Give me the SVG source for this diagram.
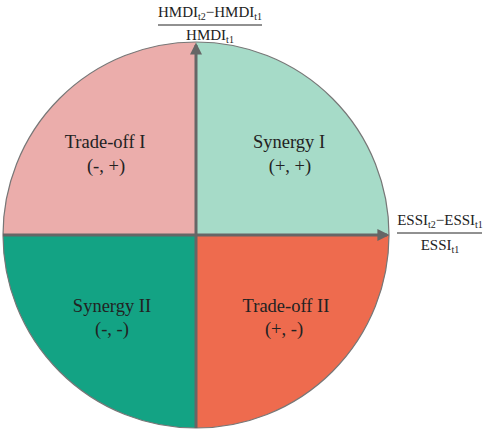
<svg xmlns="http://www.w3.org/2000/svg" width="484" height="429" viewBox="0 0 484 429">
<style>
.lbl{font-family:"Liberation Serif","Times New Roman",serif;font-size:18.5px;fill:#222;text-anchor:middle}
.ax{font-family:"Liberation Serif","Times New Roman",serif;font-size:15px;fill:#222;text-anchor:middle}
.sub{font-size:10px}
.axis{stroke:#666;stroke-width:3;fill:none}
</style>
<defs>
<marker id="ah" viewBox="0 0 10 10" refX="8" refY="5" markerWidth="4" markerHeight="4" orient="auto"><path d="M0,0L10,5L0,10z" fill="#666"/></marker>
<clipPath id="c"><circle cx="196" cy="235" r="193"/></clipPath>
</defs>
<g id="quadrants" clip-path="url(#c)">
<g id="tradeoff1"><rect x="0" y="40" width="196" height="195" fill="#ebadab"/></g>
<g id="synergy1"><rect x="196" y="40" width="196" height="195" fill="#a6dbc8"/></g>
<g id="synergy2"><rect x="0" y="235" width="196" height="195" fill="#13a384"/></g>
<g id="tradeoff2"><rect x="196" y="235" width="196" height="195" fill="#ee6b4e"/></g>
</g>
<circle cx="196" cy="235" r="193" fill="none" stroke="#777" stroke-width="1.2"/>
<g id="connectors">
<line class="axis" x1="3" y1="235" x2="387" y2="235" marker-end="url(#ah)"/>
<line class="axis" x1="196" y1="428" x2="196" y2="45" marker-end="url(#ah)"/>
</g>
<g id="labels">
<text class="lbl" x="105" y="148">Trade-off I</text>
<text class="lbl" x="106" y="172">(-, +)</text>
<text class="lbl" x="289" y="148">Synergy I</text>
<text class="lbl" x="290" y="172">(+, +)</text>
<text class="lbl" x="112" y="312">Synergy II</text>
<text class="lbl" x="112" y="335">(-, -)</text>
<text class="lbl" x="286" y="312">Trade-off II</text>
<text class="lbl" x="284" y="335">(+, -)</text>
</g>
<g id="yaxis-label">
<text class="ax" x="210" y="17">HMDI<tspan class="sub" dy="3">t2</tspan><tspan dy="-3">−HMDI</tspan><tspan class="sub" dy="3">t1</tspan></text>
<line x1="158" y1="25" x2="262" y2="25" stroke="#222" stroke-width="1"/>
<text class="ax" x="210" y="40">HMDI<tspan class="sub" dy="3">t1</tspan></text>
</g>
<g id="xaxis-label">
<text class="ax" x="440" y="225">ESSI<tspan class="sub" dy="3">t2</tspan><tspan dy="-3">−ESSI</tspan><tspan class="sub" dy="3">t1</tspan></text>
<line x1="397" y1="233" x2="482" y2="233" stroke="#222" stroke-width="1"/>
<text class="ax" x="440" y="250">ESSI<tspan class="sub" dy="3">t1</tspan></text>
</g>
</svg>
